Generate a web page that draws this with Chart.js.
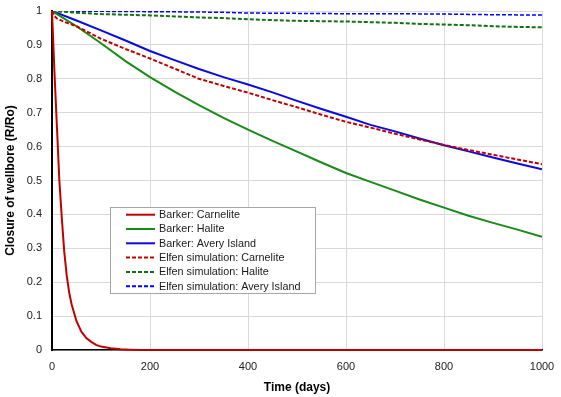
<!DOCTYPE html>
<html>
<head>
<meta charset="utf-8">
<script src="https://cdn.jsdelivr.net/npm/chart.js@4/dist/chart.umd.min.js"></script>
<style>
  html, body { margin: 0; padding: 0; background: #fff; }
  #wrap { width: 561px; height: 397px; position: relative; }
</style>
</head>
<body>
<div id="wrap"><canvas id="c" width="561" height="397"></canvas></div>
<script>
// ---- Data ----
const seriesLabels = [
  'Barker: Carnelite',
  'Barker: Halite',
  'Barker: Avery Island',
  'Elfen simulation: Carnelite',
  'Elfen simulation: Halite',
  'Elfen simulation: Avery Island'
];

const timeCarnBarker = [0, 5, 10, 15, 20, 25, 30, 35, 40, 50, 60, 70, 80, 90, 100, 120, 140, 160, 180, 200, 400, 600, 800, 1000];
const valCarnBarker  = [1, 0.82, 0.66, 0.50, 0.39, 0.29, 0.22, 0.17, 0.135, 0.085, 0.054, 0.035, 0.024, 0.015, 0.01, 0.005, 0.002, 0.001, 0, 0, 0, 0, 0, 0];

const timeSteps = [0, 50, 100, 150, 200, 250, 300, 350, 400, 450, 500, 550, 600, 650, 700, 750, 800, 850, 900, 950, 1000];
const valHaliteBarker = [1, 0.955, 0.905, 0.852, 0.805, 0.762, 0.722, 0.685, 0.650, 0.617, 0.585, 0.553, 0.522, 0.496, 0.470, 0.444, 0.420, 0.396, 0.375, 0.355, 0.334];
const valAveryBarker  = [1, 0.972, 0.943, 0.913, 0.882, 0.855, 0.829, 0.805, 0.783, 0.760, 0.735, 0.711, 0.688, 0.664, 0.645, 0.624, 0.604, 0.586, 0.568, 0.550, 0.533];

const timeCarnElfen = [0, 5, 10, 25, 50, 100, 150, 200, 250, 300, 350, 400, 450, 500, 550, 600, 650, 700, 750, 800, 850, 900, 950, 1000];
const valCarnElfen  = [1, 0.985, 0.978, 0.968, 0.955, 0.918, 0.888, 0.860, 0.830, 0.800, 0.779, 0.759, 0.737, 0.716, 0.694, 0.673, 0.656, 0.638, 0.621, 0.605, 0.590, 0.576, 0.562, 0.548];

const valHaliteElfen = [1, 0.995, 0.991, 0.989, 0.987, 0.984, 0.981, 0.979, 0.976, 0.973, 0.971, 0.970, 0.969, 0.967, 0.965, 0.962, 0.960, 0.958, 0.955, 0.953, 0.952];
const valAveryElfen  = [1, 0.9995, 0.999, 0.9985, 0.998, 0.9975, 0.997, 0.996, 0.994, 0.9935, 0.993, 0.9925, 0.992, 0.992, 0.992, 0.9915, 0.991, 0.990, 0.989, 0.9885, 0.988];

const xTickValues = [0, 200, 400, 600, 800, 1000];
const yTickValues = [0, 0.1, 0.2, 0.3, 0.4, 0.5, 0.6, 0.7, 0.8, 0.9, 1];

// ---- helpers ----
function pts(xs, ys) { return xs.map((x, i) => ({ x: x, y: ys[i] })); }

const FONT = "'Liberation Sans', Arial, sans-serif";

const datasets = [
  { label: seriesLabels[0], data: pts(timeCarnBarker, valCarnBarker), borderColor: '#C00000', borderWidth: 2, order: 2, clip: false },
  { label: seriesLabels[1], data: pts(timeSteps, valHaliteBarker), borderColor: '#178A17', borderWidth: 2, order: 2 },
  { label: seriesLabels[2], data: pts(timeSteps, valAveryBarker), borderColor: '#0A0AE0', borderWidth: 2, order: 2 },
  { label: seriesLabels[3], data: pts(timeCarnElfen, valCarnElfen), borderColor: '#C00000', borderWidth: 2, borderDash: [4, 2], order: 1 },
  { label: seriesLabels[4], data: pts(timeSteps, valHaliteElfen), borderColor: '#137013', borderWidth: 2, borderDash: [4, 2], order: 1 },
  { label: seriesLabels[5], data: pts(timeSteps, valAveryElfen), borderColor: '#0000FF', borderWidth: 1.5, borderDash: [4, 2], order: 1 }
];
datasets.forEach(d => { d.showLine = true; d.pointRadius = 0; d.tension = 0; d.fill = false; d.borderCapStyle = 'butt'; });

// custom legend inside the plot area
const insideLegend = {
  id: 'insideLegend',
  afterDraw(chart) {
    const ctx = chart.ctx;
    const x0 = 110.5, y0 = 207.5, w = 205, h = 86;
    ctx.save();
    ctx.fillStyle = '#fff';
    ctx.fillRect(x0, y0, w, h);
    ctx.strokeStyle = '#A6A6A6';
    ctx.lineWidth = 1;
    ctx.strokeRect(x0, y0, w, h);
    ctx.font = '10.8px ' + FONT;
    ctx.textBaseline = 'middle';
    ctx.textAlign = 'left';
    chart.data.datasets.forEach((ds, i) => {
      const y = 214.7 + i * 14.3;
      ctx.beginPath();
      ctx.strokeStyle = ds.borderColor;
      ctx.lineWidth = 2;
      ctx.setLineDash(ds.borderDash || []);
      ctx.moveTo(126, y);
      ctx.lineTo(155, y);
      ctx.stroke();
      ctx.setLineDash([]);
      ctx.fillStyle = '#1a1a1a';
      ctx.fillText(ds.label, 159, y + 0.5);
    });
    ctx.restore();
  }
};

function zeroPad(scale) {
  scale.paddingTop = 0; scale.paddingBottom = 0;
  scale.paddingLeft = 0; scale.paddingRight = 0;
}

new Chart(document.getElementById('c'), {
  type: 'scatter',
  data: { datasets: datasets },
  options: {
    responsive: false,
    animation: false,
    devicePixelRatio: 1,
    layout: { padding: { top: 11, right: 19, left: 0, bottom: 0 } },
    plugins: { legend: { display: false }, tooltip: { enabled: false } },
    scales: {
      x: {
        type: 'linear', min: 0, max: 1000,
        afterBuildTicks(scale) { scale.ticks = xTickValues.map(v => ({ value: v })); },
        afterFit(scale) { scale.height = 47; zeroPad(scale); },
        ticks: { padding: 10, color: '#222', font: { family: FONT, size: 11 }, callback: v => String(v), maxRotation: 0 },
        grid: { color: '#D9D9D9', lineWidth: 1, drawTicks: false },
        border: { color: '#000', width: 1.5 },
        title: { display: true, text: 'Time (days)', color: '#000', font: { family: FONT, size: 12, weight: 'bold' }, padding: { top: 2, bottom: 2 } }
      },
      y: {
        type: 'linear', min: 0, max: 1,
        afterBuildTicks(scale) { scale.ticks = yTickValues.map(v => ({ value: v })); },
        afterFit(scale) { scale.width = 52; zeroPad(scale); },
        ticks: { padding: 10, color: '#222', font: { family: FONT, size: 11 }, callback: v => String(Number(v.toFixed(1))) },
        grid: { color: '#D9D9D9', lineWidth: 1, drawTicks: false },
        border: { color: '#000', width: 2 },
        title: { display: true, text: 'Closure of wellbore (R/Ro)', color: '#000', font: { family: FONT, size: 12, weight: 'bold' }, padding: { top: 3, bottom: 2 } }
      }
    }
  },
  plugins: [insideLegend]
});
</script>
</body>
</html>
